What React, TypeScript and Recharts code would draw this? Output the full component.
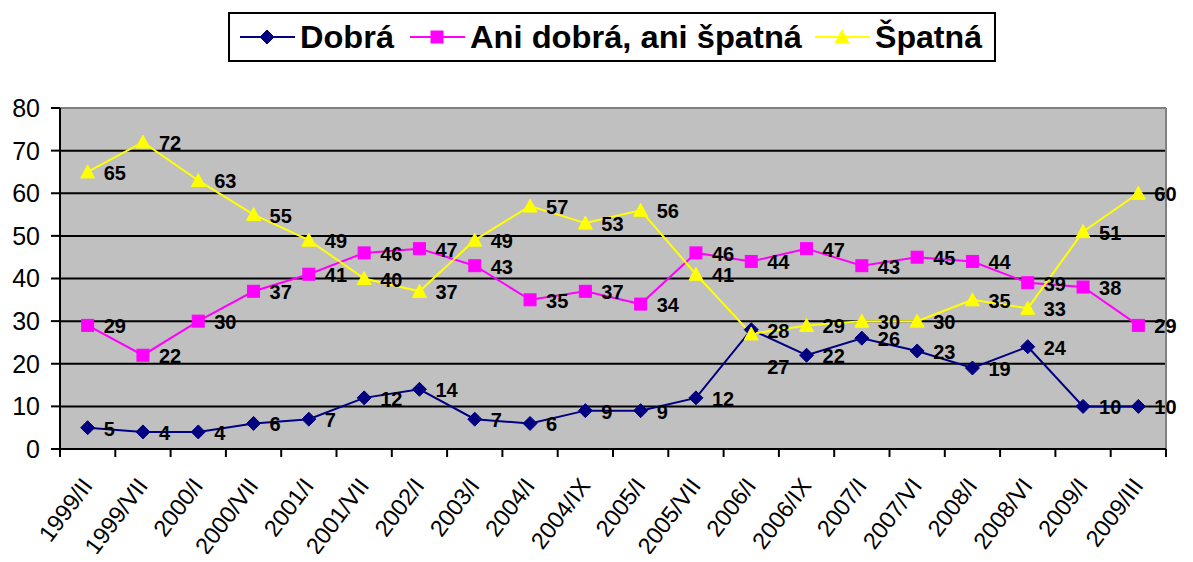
import React from 'react';
import { LineChart, Line, XAxis, YAxis, CartesianGrid, LabelList, ReferenceLine } from 'recharts';

const categories = ['1999/II', '1999/VII', '2000/I', '2000/VII', '2001/I', '2001/VII', '2002/I', '2003/I', '2004/I', '2004/IX', '2005/I', '2005/VII', '2006/I', '2006/IX', '2007/I', '2007/VI', '2008/I', '2008/VI', '2009/I', '2009/III'];
const dobra = [5, 4, 4, 6, 7, 12, 14, 7, 6, 9, 9, 12, 28, 22, 26, 23, 19, 24, 10, 10];
const ani = [29, 22, 30, 37, 41, 46, 47, 43, 35, 37, 34, 46, 44, 47, 43, 45, 44, 39, 38, 29];
const spatna = [65, 72, 63, 55, 49, 40, 37, 49, 57, 53, 56, 41, 27, 29, 30, 30, 35, 33, 51, 60];
const yTicks = [0, 10, 20, 30, 40, 50, 60, 70, 80];
const xBoundaries = categories.map((_, i) => i).concat([categories.length]);

const seriesNames = ['Dobrá', 'Ani dobrá, ani špatná', 'Špatná'];
const seriesColors = ['#000080', '#FF00FF', '#FFFF00'];
const seriesKeys = ['dobra', 'ani', 'spatna'];
const seriesShapes = ['diamond', 'square', 'triangle'];

const data = categories.map((c, i) => ({ x: i + 0.5, cat: c, dobra: dobra[i], ani: ani[i], spatna: spatna[i] }));

const W = 1177;
const H = 546;
const MARGIN = { top: 100, right: 19, left: 0, bottom: 0 };
const Y_W = 52;
const BAND = (W - MARGIN.right - MARGIN.left - Y_W) / categories.length;
const FONT = '"Liberation Sans", Arial, sans-serif';

function Marker({ shape, cx, cy, color }: any) {
  if (cx == null || cy == null) return null;
  if (shape === 'diamond') {
    const r = 7;
    return <polygon points={`${cx},${cy - r} ${cx + r},${cy} ${cx},${cy + r} ${cx - r},${cy}`} fill={color} stroke={color} strokeWidth={1} />;
  }
  if (shape === 'square') {
    const r = 6;
    return <rect x={cx - r} y={cy - r} width={2 * r} height={2 * r} fill={color} stroke={color} strokeWidth={1} />;
  }
  const r = 7;
  return <polygon points={`${cx},${cy - r} ${cx + r},${cy + r - 1} ${cx - r},${cy + r - 1}`} fill={color} stroke={color} strokeWidth={1} />;
}

function XTick(props: any) {
  const { x, y, payload } = props;
  const i = payload.value;
  if (i >= categories.length) return <g />;
  const cx = x + BAND / 2;
  return (
    <g transform={`translate(${cx + 6},${y + 27})`}>
      <text x={0} y={0} textAnchor="end" transform="rotate(-53)" fontFamily={FONT} fontSize={23.5} fill="#000">
        {categories[i]}
      </text>
    </g>
  );
}

function makeLabel(seriesIdx: number) {
  return (props: any) => {
    const { x, y, value, index } = props;
    let dy = 1;
    if (seriesIdx === 2 && index === 12) dy = 33;
    return (
      <text x={x + 16} y={y + dy} dominantBaseline="central" fontFamily={FONT} fontWeight="bold" fontSize={20} fill="#000">
        {value}
      </text>
    );
  };
}

function LegendBox() {
  const itemX = [12, 182, 587];
  const textW = [94, 332, 107];
  return (
    <svg width={W} height={60} style={{ position: 'absolute', left: 0, top: 0, pointerEvents: 'none' }}>
      <rect x={221} y={5} width={766} height={48} fill="#fff" stroke="#000" strokeWidth={2} />
      {seriesNames.map((n, i) => {
        const x0 = 220 + itemX[i];
        return (
          <g key={n}>
            <line x1={x0} y1={29} x2={x0 + 55} y2={29} stroke={seriesColors[i]} strokeWidth={2} />
            <Marker shape={seriesShapes[i]} cx={x0 + 27} cy={29} color={seriesColors[i]} />
            <text x={x0 + 60} y={40} fontFamily={FONT} fontWeight="bold" fontSize={32} fill="#000" textLength={textW[i]} lengthAdjust="spacingAndGlyphs">
              {n}
            </text>
          </g>
        );
      })}
    </svg>
  );
}

export default function App() {
  return (
    <div style={{ position: 'relative', width: W, height: H }}>
      <LineChart width={W} height={H} data={data} margin={MARGIN}>
        <CartesianGrid vertical={false} stroke="#000" strokeWidth={2} fill="#C0C0C0" fillOpacity={1} />
        <XAxis
          type="number"
          dataKey="x"
          domain={[0, categories.length]}
          ticks={xBoundaries}
          interval={0}
          height={105}
          tickSize={8}
          tickMargin={2}
          axisLine={{ stroke: '#000', strokeWidth: 2 }}
          tickLine={{ stroke: '#000', strokeWidth: 2 }}
          tick={<XTick />}
          allowDataOverflow
        />
        <YAxis
          type="number"
          domain={[0, 80]}
          ticks={yTicks}
          interval={0}
          width={Y_W}
          tickSize={9}
          tickMargin={11}
          axisLine={{ stroke: '#000', strokeWidth: 2 }}
          tickLine={{ stroke: '#000', strokeWidth: 2 }}
          tick={{ fill: '#000', fontSize: 25, fontFamily: FONT }}
          allowDataOverflow
        />
        <ReferenceLine y={80} stroke="#808080" strokeWidth={2} />
        <ReferenceLine x={categories.length} stroke="#808080" strokeWidth={2} />
        {seriesKeys.map((k, si) => (
          <Line
            key={k}
            type="linear"
            dataKey={k}
            name={seriesNames[si]}
            stroke={seriesColors[si]}
            strokeWidth={2}
            isAnimationActive={false}
            dot={(p: any) => <Marker key={`${k}-${p.index}`} shape={seriesShapes[si]} cx={p.cx} cy={p.cy} color={seriesColors[si]} />}
            activeDot={false}
          >
            <LabelList dataKey={k} content={makeLabel(si)} />
          </Line>
        ))}
      </LineChart>
      <LegendBox />
    </div>
  );
}
